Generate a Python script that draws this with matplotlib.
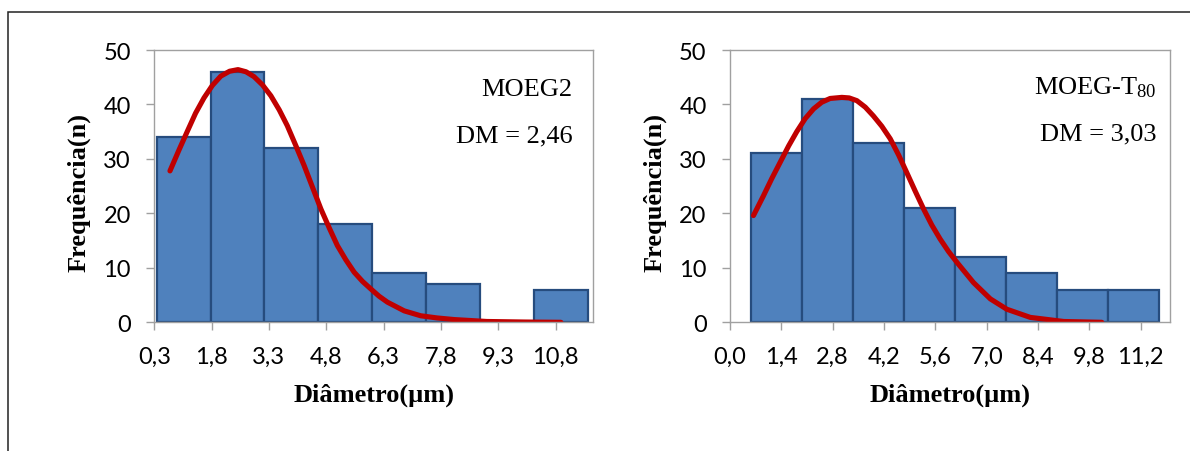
import numpy as np
import matplotlib.pyplot as plt
from matplotlib.patches import Rectangle

# ---------- data ----------
classes = np.arange(8)                       # histogram classes (column chart)
freq_moeg2 = [34, 46, 32, 18, 9, 7, 0, 6]
freq_t80 = [31, 41, 33, 21, 12, 9, 6, 6]

ticks_moeg2 = [0.3, 1.8, 3.3, 4.8, 6.3, 7.8, 9.3, 10.8]
ticks_t80 = [0.0, 1.4, 2.8, 4.2, 5.6, 7.0, 8.4, 9.8, 11.2]
yticks = [0, 10, 20, 30, 40, 50]

# fitted distribution curves
curve_x_moeg2 = [0.71, 0.95, 1.16, 1.38, 1.60, 1.82, 2.04, 2.27, 2.49, 2.70, 2.91,
                 3.13, 3.35, 3.57, 3.78, 4.00, 4.22, 4.44, 4.66, 4.88, 5.09, 5.31,
                 5.53, 5.75, 5.97, 6.18, 6.40, 6.84, 7.27, 7.70, 8.15, 9.00, 10.0, 10.94]
curve_y_moeg2 = [27.8, 31.7, 35.0, 38.4, 41.2, 43.5, 45.2, 46.1, 46.4, 46.0, 45.1,
                 43.6, 41.6, 39.0, 36.1, 32.5, 28.8, 24.8, 20.8, 17.3, 14.1, 11.5,
                 9.2, 7.5, 6.1, 4.8, 3.7, 2.1, 1.2, 0.8, 0.5, 0.15, 0.05, 0.0]

curve_x_t80 = [0.64, 0.91, 1.14, 1.37, 1.60, 1.82, 2.05, 2.28, 2.50, 2.73, 3.05,
               3.25, 3.46, 3.69, 3.91, 4.14, 4.37, 4.60, 4.82, 5.05, 5.28, 5.50,
               5.73, 5.96, 6.19, 6.64, 7.10, 7.55, 8.19, 9.10, 10.14]
curve_y_t80 = [19.6, 23.2, 26.4, 29.4, 32.4, 35.0, 37.4, 39.2, 40.4, 41.1, 41.3,
               41.2, 40.7, 39.5, 37.9, 36.0, 33.7, 30.7, 27.5, 24.1, 20.8, 17.9,
               15.3, 13.0, 11.0, 7.3, 4.3, 2.4, 0.9, 0.15, 0.0]

# ---------- style ----------
BAR_FILL = '#4F81BD'
BAR_EDGE = '#264C7E'
CURVE = '#C00000'
AXIS_GRAY = '#A0A0A0'
SERIF = 'Liberation Serif'
TICK_FONT = ['Lato', 'DejaVu Sans']
TICK_SIZE = 17

plt.rcParams['mathtext.fontset'] = 'custom'
plt.rcParams['mathtext.rm'] = SERIF
plt.rcParams['mathtext.it'] = SERIF + ':italic'

W, H = 1190, 452
fig = plt.figure(figsize=(W / 100, H / 100), dpi=100)


def panel(rect, freq, ticks, xlim, barlim, cx, cy, name, dm, txt_x, txt_y):
    ax = fig.add_axes(rect)
    axb = ax.twiny()
    axb.bar(classes, freq, width=1.0, color=BAR_FILL, edgecolor=BAR_EDGE, linewidth=1.6)
    axb.set_xlim(*barlim)
    axb.axis('off')
    ax.set_zorder(axb.get_zorder() + 1)
    ax.patch.set_visible(False)

    ax.plot(cx, cy, color=CURVE, lw=3.7, solid_capstyle='round', solid_joinstyle='round')

    ax.set_xlim(*xlim)
    ax.set_ylim(0, 50)
    ax.set_xticks(ticks, [f"{t:.1f}".replace('.', ',') for t in ticks],
                  fontsize=TICK_SIZE, fontfamily=TICK_FONT)
    ax.set_yticks(yticks, [str(t) for t in yticks],
                  fontsize=TICK_SIZE, fontfamily=TICK_FONT)
    for s in ax.spines.values():
        s.set_color(AXIS_GRAY)
        s.set_linewidth(1.0)
    ax.tick_params(direction='out', length=5.8, width=1.0, color=AXIS_GRAY,
                   labelcolor='black')
    ax.tick_params(axis='x', pad=11)
    ax.tick_params(axis='y', pad=11)

    ax.set_xlabel('Diâmetro(µm)', fontfamily=SERIF, fontweight='bold', fontsize=19)
    ax.set_ylabel('Frequência(n)', fontfamily=SERIF, fontweight='bold', fontsize=19)
    ax.xaxis.set_label_coords(0.5, -0.223)
    ax.yaxis.set_label_coords(-0.145, 0.48)

    ax.text(txt_x, txt_y[0], name, transform=ax.transAxes, ha='right', va='baseline',
            fontfamily=SERIF, fontsize=19)
    ax.text(txt_x, txt_y[1], dm, transform=ax.transAxes, ha='right', va='baseline',
            fontfamily=SERIF, fontsize=19)
    return ax


panel([154.3 / W, 1 - 323.3 / H, 438.7 / W, 272.3 / H],
      freq_moeg2, ticks_moeg2, (0.3, 11.78), (-0.545, 7.598),
      curve_x_moeg2, curve_y_moeg2, 'MOEG2', 'DM = 2,46', 0.954, (0.835, 0.665))

panel([730 / W, 1 - 323.3 / H, 440 / W, 272.3 / H],
      freq_t80, ticks_t80, (0.0, 12.0), (-0.911, 7.71),
      curve_x_t80, curve_y_t80, 'MOEG-T$_{80}$', 'DM = 3,03', 0.970, (0.841, 0.673))

# outer frame of the original figure
fig.add_artist(Rectangle((8.3 / W, -0.05), 1.2, 1.05 - 12.7 / H, transform=fig.transFigure,
                         fill=False, edgecolor='#222222', linewidth=1.1))

fig.savefig('out.png', dpi=100)
